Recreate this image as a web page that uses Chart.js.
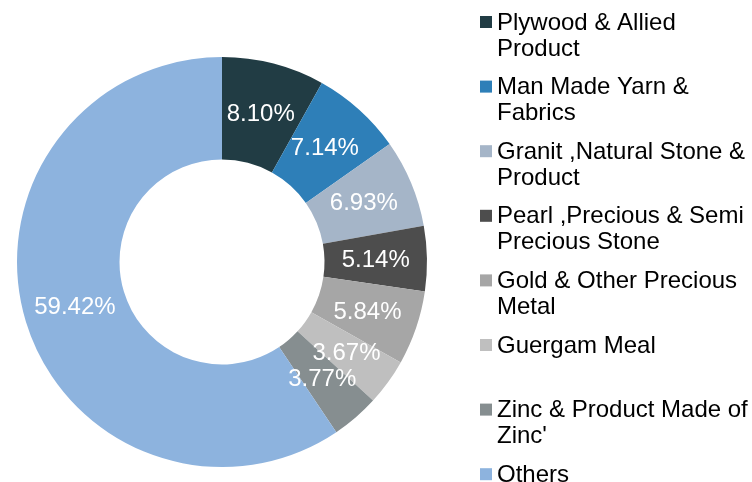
<!DOCTYPE html>
<html>
<head>
<meta charset="utf-8">
<script src="https://cdn.jsdelivr.net/npm/chart.js@4/dist/chart.umd.min.js"></script>
<style>
  html, body { margin: 0; padding: 0; background: #fff; }
  #wrap { width: 752px; height: 482px; position: relative; }
</style>
</head>
<body>
<div id="wrap"><canvas id="exportChart" width="752" height="482"></canvas></div>
<script>
// categories (legend lines), shares in %, slice colours
var categories = [
    ['Plywood & Allied', 'Product'],
    ['Man Made Yarn &', 'Fabrics'],
    ['Granit ,Natural Stone &', 'Product'],
    ['Pearl ,Precious & Semi', 'Precious Stone'],
    ['Gold & Other Precious', 'Metal'],
    ['Guergam Meal'],
    ['Zinc & Product Made of', 'Zinc\''],
    ['Others']
];
var shares = [8.10, 7.14, 6.93, 5.14, 5.84, 3.67, 3.77, 59.42];
var sliceColors = ['#213c44', '#2e7fb8', '#a5b5c8', '#4d4d4d', '#a6a6a6', '#bfbfbf', '#868e90', '#8db3de'];

var FONT = '"Liberation Sans", Arial, sans-serif';

// percentage text on each slice
var sliceLabels = {
    id: 'sliceLabels',
    afterDatasetsDraw: function (chart) {
        var ctx = chart.ctx;
        var meta = chart.getDatasetMeta(0);
        ctx.save();
        ctx.font = '24px ' + FONT;
        ctx.fillStyle = '#ffffff';
        ctx.textAlign = 'center';
        ctx.textBaseline = 'middle';
        meta.data.forEach(function (arc, i) {
            var p = arc.tooltipPosition();
            ctx.fillText(shares[i].toFixed(2) + '%', p.x, p.y + 1);
        });
        ctx.restore();
    }
};

// legend on the right, one slot per item
var sideLegend = {
    id: 'sideLegend',
    afterDraw: function (chart) {
        var ctx = chart.ctx;
        var x = 480, top = 22, step = 64.6, lineH = 26;
        ctx.save();
        ctx.font = '24px ' + FONT;
        ctx.textBaseline = 'middle';
        ctx.textAlign = 'left';
        categories.forEach(function (lines, i) {
            var y = top + i * step;
            ctx.fillStyle = sliceColors[i];
            ctx.fillRect(x, y - 6, 12, 12);
            ctx.fillStyle = '#000000';
            lines.forEach(function (t, j) {
                ctx.fillText(t, x + 17, y + j * lineH + 1);
            });
        });
        ctx.restore();
    }
};

new Chart(document.getElementById('exportChart'), {
    type: 'doughnut',
    data: {
        labels: categories.map(function (l) { return l.join(' '); }),
        datasets: [{
            data: shares,
            backgroundColor: sliceColors,
            borderWidth: 0
        }]
    },
    options: {
        responsive: false,
        animation: false,
        cutout: '50%',
        layout: {
            padding: { left: 17, right: 325, top: 57, bottom: 15 }
        },
        plugins: {
            legend: { display: false },
            tooltip: { enabled: false }
        }
    },
    plugins: [sliceLabels, sideLegend]
});
</script>
</body>
</html>
